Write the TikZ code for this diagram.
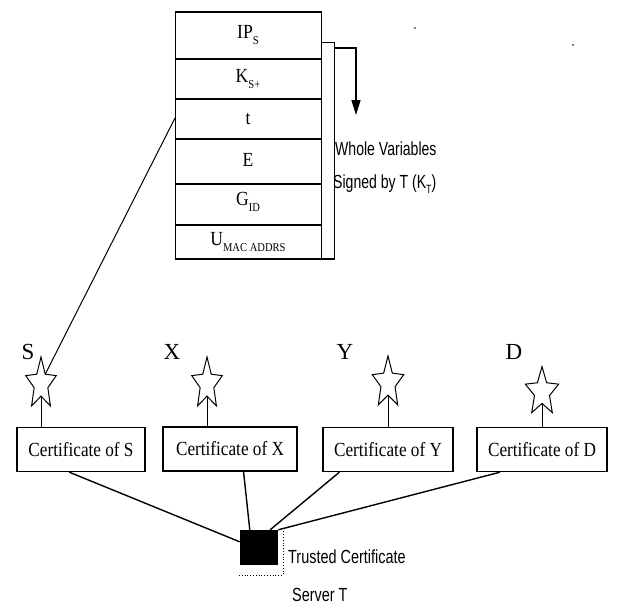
\documentclass[tikz,border=0pt]{standalone}
\usepackage{fontspec}
\setmainfont{Liberation Serif}
\newfontfamily\labelsans{Liberation Sans}
\usetikzlibrary{arrows.meta,calc}
% lowered small subscript in text fonts
\newcommand\lowsub[1]{\raisebox{-0.3em}{\fontsize{12}{12}\selectfont #1}}
\newcommand\sanssub[1]{\raisebox{-0.25em}{\fontsize{12}{12}\selectfont #1}}
% horizontally condensed text
\newcommand\hsqueeze[2]{\scalebox{#1}[1]{#2}}
\begin{document}
\begin{tikzpicture}[x=1pt,y=-1pt,
  tabrule/.style={line width=1.5pt},
  tabside/.style={line width=1pt},
  celltext/.style={inner sep=0pt,font=\fontsize{20}{20}\selectfont},
  certbox/.style={draw,line width=1.4pt,inner sep=0pt,minimum height=44pt,
    font=\fontsize{20}{20}\selectfont},
  namelabel/.style={inner sep=0pt,font=\fontsize{23}{23}\selectfont},
  sanslabel/.style={inner sep=0pt,anchor=west,font=\labelsans\fontsize{19}{19}\selectfont},
  link/.style={line width=1.4pt},
  stem/.style={line width=1pt},
  sigarrow/.style={line width=1.4pt,-{Triangle[length=15pt,width=9pt]}},
  pics/certstar/.style={code={
    \draw[line width=1pt,line join=miter]
      (90:1) -- (126:0.45) -- (162:1) -- (198:0.45) -- (234:1) -- (270:0.45)
      -- (306:1) -- (342:0.45) -- (18:1) -- (54:0.45) -- cycle;
    \coordinate (-notch) at (270:0.45);
    \coordinate (-ne) at (54:0.45);}}
]
\useasboundingbox[fill=white] (0,0) rectangle (617,608);

% variable table
\foreach \yy in {12,59,99,139,184,225} \draw[tabrule] (175,\yy) -- (322,\yy);
\draw[tabrule] (175,259) -- (335,259);
\draw[tabside] (175,12) -- (175,259);
\draw[tabside] (321,12) -- (321,259);
\node[celltext] (rIP) at (248,35.5) {\hsqueeze{0.88}{IP\lowsub{S}}};
\node[celltext] (rK)  at (248,79)   {\hsqueeze{0.88}{K\lowsub{S+}}};
\node[celltext] (rT)  at (248,119)  {\hsqueeze{0.88}{t}};
\node[celltext] (rE)  at (248,160)  {\hsqueeze{0.88}{E}};
\node[celltext] (rG)  at (248,202)  {\hsqueeze{0.88}{G\lowsub{ID}}};
\node[celltext] (rU)  at (248,242)  {\hsqueeze{0.88}{U\lowsub{MAC ADDRS}}};
\coordinate (tabL) at (175,118);

% signature bracket and arrow
\draw[tabside] (321,42) -- (334,42) -- (334,259);
\draw[sigarrow] (334,48) -- (356,48) -- (356,115);
\node[sanslabel] (wv) at (335,149) {\hsqueeze{0.74}{Whole Variables}};
\node[sanslabel] (sg) at (333,184) {\hsqueeze{0.74}{Signed by T (K\sanssub{T})}};

% specks
\fill (415,28) circle (0.9);
\fill (573,45) circle (0.9);

% parties
\node[namelabel] (nS) at (28,352)  {S};
\node[namelabel] (nX) at (172,352) {X};
\node[namelabel] (nY) at (345,352) {Y};
\node[namelabel] (nD) at (514,352) {D};

\pic[xscale=16,yscale=-27]   (sS) at (41,384)  {certstar};
\pic[xscale=16,yscale=-27]   (sX) at (207,384) {certstar};
\pic[xscale=16.5,yscale=-27] (sY) at (388,383) {certstar};
\pic[xscale=17.5,yscale=-25.4] (sD) at (542,392) {certstar};

% certificates
\node[certbox,minimum width=128pt] (bS) at (81,449.5)  {\hsqueeze{0.86}{Certificate of S}};
\node[certbox,minimum width=134pt] (bX) at (230,449)   {\hsqueeze{0.86}{Certificate of X}};
\node[certbox,minimum width=130pt] (bY) at (388,449.5) {\hsqueeze{0.86}{Certificate of Y}};
\node[certbox,minimum width=130pt] (bD) at (542,449.5) {\hsqueeze{0.86}{Certificate of D}};

\draw[stem] (bS.north -| sS-notch) -- (sS-notch);
\draw[stem] (bX.north -| sX-notch) -- (sX-notch);
\draw[stem] (bY.north -| sY-notch) -- (sY-notch);
\draw[stem] (bD.north -| sD-notch) -- (sD-notch);

% table to certificate of S
\draw[line width=1pt] (tabL) -- (sS-ne);

% trusted server
\node[fill=black,inner sep=0pt,minimum width=38pt,minimum height=35pt] (T) at (259,547.5) {};
\draw[dotted,line width=0.8pt] (239,575) -- (283,575) -- (283,530);
\node[sanslabel] (tc) at (288,557) {\hsqueeze{0.76}{Trusted Certificate}};
\node[sanslabel] (st) at (292,595) {\hsqueeze{0.76}{Server T}};

\draw[link] ($(bS.south west)!0.41!(bS.south east)$) -- ($(T.north west)!0.34!(T.south west)$);
\draw[link] ($(bX.south west)!0.6!(bX.south east)$) -- ($(T.north west)!0.26!(T.north east)$);
\draw[link] ($(bY.south west)!0.13!(bY.south east)$) -- ($(T.north west)!0.79!(T.north east)$);
\draw[link] ($(bD.south west)!0.18!(bD.south east)$) -- (T.north east);
\end{tikzpicture}
\end{document}
